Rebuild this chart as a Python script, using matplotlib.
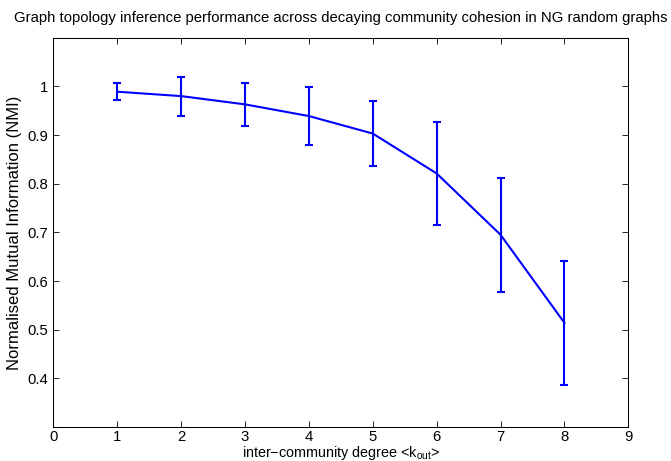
import matplotlib
matplotlib.use("Agg")
import matplotlib.pyplot as plt
from matplotlib.ticker import FuncFormatter

plt.rcParams['font.family'] = ['Liberation Sans', 'DejaVu Sans']
plt.rcParams['mathtext.fontset'] = 'custom'
plt.rcParams['mathtext.rm'] = 'Liberation Sans'
plt.rcParams['mathtext.it'] = 'Liberation Sans'

k_out = [1, 2, 3, 4, 5, 6, 7, 8]
nmi = [0.989, 0.980, 0.963, 0.939, 0.903, 0.821, 0.695, 0.514]
nmi_err = [0.018, 0.040, 0.044, 0.059, 0.066, 0.106, 0.117, 0.127]
x_ticks = [0, 1, 2, 3, 4, 5, 6, 7, 8, 9]
y_ticks = [0.4, 0.5, 0.6, 0.7, 0.8, 0.9, 1.0]

fig = plt.figure(figsize=(6.71, 4.61), dpi=100)
ax = fig.add_axes([0.0795, 0.0738, 0.8569, 0.8444])
ax.errorbar(k_out, nmi, yerr=nmi_err, color=(0, 0, 1), lw=1.5,
            elinewidth=1.5, capsize=3, capthick=1.5)
ax.set_xlim(0, 9)
ax.set_ylim(0.3, 1.1)
ax.set_xticks(x_ticks)
ax.set_yticks(y_ticks)
ax.yaxis.set_major_formatter(FuncFormatter(lambda v, p: ('%g' % round(v, 2))))
ax.tick_params(direction='in', top=True, right=True, labelsize=10.7, length=4.3, width=0.6)
ax.tick_params(axis='x', pad=2.5)
ax.tick_params(axis='y', pad=3.5)
for s in ax.spines.values():
    s.set_linewidth(0.75)
ax.set_title('Graph topology inference performance across decaying community cohesion in NG random graphs',
             fontsize=10.7, pad=11)
ax.set_xlabel(r'inter$-$community degree <k$_{\mathrm{out}}$>', fontsize=10.4, labelpad=0)
ax.set_ylabel('Normalised Mutual Information (NMI)', fontsize=12, labelpad=4)
fig.savefig('out.png', dpi=100)
